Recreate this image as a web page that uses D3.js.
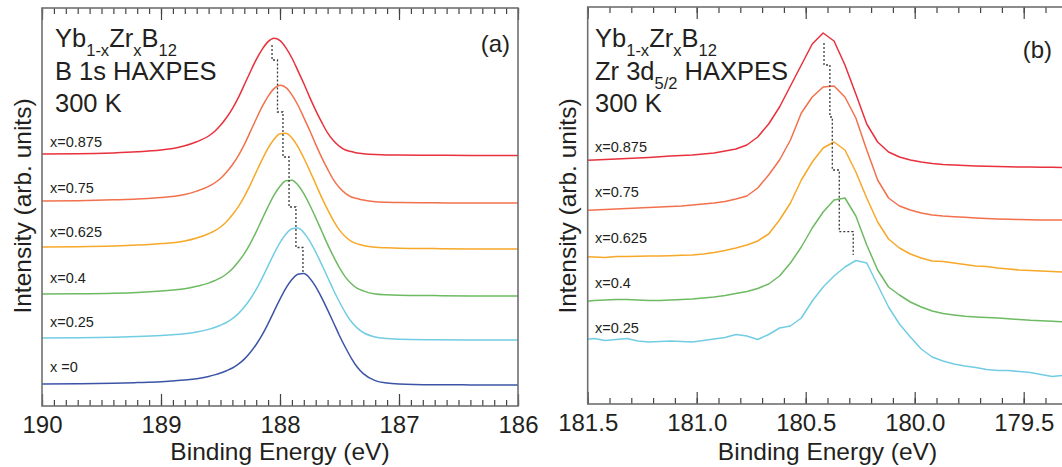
<!DOCTYPE html>
<html>
<head>
<meta charset="utf-8">
<script src="https://cdn.jsdelivr.net/npm/d3@7"></script>
<style>
  html, body { margin: 0; padding: 0; background: #fff; }
  svg { display: block; font-family: "Liberation Sans", Arial, Helvetica, sans-serif; }
</style>
</head>
<body>
<svg id="chart" width="1062" height="467"></svg>
<script>
// ---------- Panel (a): B 1s core level ----------
const energyB1s = [190.0, 189.7, 189.4, 189.2, 189.0, 188.9, 188.8, 188.7,
  188.6, 188.55, 188.5, 188.45, 188.4, 188.35, 188.3, 188.25, 188.2, 188.15, 188.1, 188.05,
  188.0, 187.95, 187.9, 187.85, 187.8, 187.75, 187.7, 187.65, 187.6, 187.55, 187.5, 187.45,
  187.4, 187.35, 187.3, 187.2, 187.1, 187.0, 186.7, 186.4, 186.0];

const b1s_x0875 = [252.0, 252.2, 253.1, 254.2, 256.0, 257.5, 260.2, 264.2,
  270.0, 274.5, 280.8, 288.3, 297.4, 308.4, 321.1, 334.0, 346.3, 356.7, 364.4, 367.7,
  365.4, 358.2, 348.0, 335.4, 322.5, 308.6, 295.6, 283.8, 273.1, 265.2, 259.7, 256.0,
  254.4, 252.9, 252.3, 251.5, 251.1, 251.0, 250.8, 250.6, 250.5];
const b1s_x075 = [205.0, 205.3, 206.2, 207.0, 208.6, 209.6, 211.5, 214.9,
  219.6, 223.0, 227.5, 233.8, 241.3, 250.4, 261.4, 274.1, 287.0, 299.3, 309.7, 317.4,
  320.7, 318.4, 311.2, 301.0, 288.4, 275.5, 261.6, 248.6, 236.8, 226.1, 218.2, 212.7,
  209.0, 207.4, 205.9, 204.2, 203.7, 203.4, 203.2, 203.0, 203.0];
const b1s_x0625 = [159.0, 159.3, 160.0, 160.9, 162.4, 163.2, 165.0, 168.0,
  172.3, 175.1, 179.0, 184.3, 191.2, 199.4, 209.4, 221.1, 233.9, 246.4, 257.8, 266.7,
  272.3, 272.8, 268.1, 259.4, 248.0, 235.3, 222.0, 208.6, 196.3, 185.1, 175.9, 169.3,
  164.7, 162.1, 160.6, 158.8, 158.2, 157.8, 157.4, 157.1, 157.0];
const b1s_x04 = [112.0, 112.2, 112.8, 113.6, 115.0, 116.0, 117.3, 119.7,
  122.9, 125.3, 128.1, 132.0, 137.3, 144.2, 152.4, 162.4, 174.1, 186.9, 199.4, 210.8,
  219.7, 225.3, 225.8, 221.1, 212.4, 201.0, 188.3, 175.0, 161.6, 149.3, 138.1, 128.9,
  122.3, 117.7, 115.1, 112.0, 111.2, 110.8, 110.4, 110.1, 110.0];
const b1s_x025 = [68.0, 68.2, 68.7, 69.4, 70.5, 71.3, 72.3, 74.0,
  76.6, 78.5, 80.8, 83.5, 87.3, 92.4, 99.0, 107.0, 116.6, 127.9, 140.2, 152.3,
  163.3, 171.9, 177.3, 177.9, 173.3, 164.9, 153.9, 141.6, 128.8, 115.8, 104.0, 93.2,
  84.2, 77.9, 73.5, 69.0, 67.5, 66.7, 66.3, 66.1, 66.0];
const b1s_x0 = [22.0, 22.2, 22.7, 23.4, 24.3, 25.1, 26.0, 27.2,
  29.5, 31.1, 33.0, 35.3, 38.0, 41.8, 46.9, 53.5, 61.5, 71.1, 82.4, 94.7,
  106.8, 117.8, 126.4, 131.8, 132.4, 127.8, 119.4, 108.4, 96.1, 83.3, 70.3, 58.5,
  47.7, 38.7, 32.4, 25.4, 23.0, 22.1, 21.3, 21.1, 21.0];

const b1sLabels = ["x=0.875", "x=0.75", "x=0.625", "x=0.4", "x=0.25", "x =0"];
const b1sLabelLevels = [259, 213, 169, 123, 79, 34];
// peak positions of each spectrum and the levels where the guide line steps across
const b1sPeakEnergy = [188.067, 188.021, 187.975, 187.924, 187.866, 187.807];
const b1sStepLevels = [361, 346, 294, 249, 199, 158.5, 134];
const b1sTickLabels = [190, 189, 188, 187, 186];

// ---------- Panel (b): Zr 3d5/2 core level ----------
const energyZr = [181.52, 181.47, 181.42, 181.37, 181.32, 181.27, 181.22, 181.17, 181.12, 181.07,
  181.02, 180.97, 180.92, 180.87, 180.82, 180.77, 180.72, 180.67, 180.62, 180.57,
  180.52, 180.47, 180.42, 180.37, 180.32, 180.27, 180.22, 180.17, 180.12, 180.07,
  180.02, 179.97, 179.92, 179.87, 179.82, 179.77, 179.72, 179.67, 179.62, 179.57,
  179.52, 179.47, 179.42, 179.37, 179.32];

const zr_x0875 = [243.5, 244, 244.5, 245, 245.5, 246, 246.5, 247.2, 248, 248.5,
  249, 250, 251, 253, 255, 259, 267, 280, 297, 318,
  339, 360, 371, 363, 339, 310, 280, 262, 252, 247,
  244, 242, 240.5, 239.5, 239, 238.5, 238, 237.7, 237.4, 237.2,
  237, 237, 236.8, 236.7, 236.6];
const zr_x075 = [193.5, 194, 194.5, 195, 195.5, 196, 196.5, 197, 197.5, 198,
  199, 200, 201, 202.5, 205, 208, 216, 229, 244, 264,
  291, 307, 317, 318, 307, 286, 254, 224, 206, 198,
  194, 191, 189, 188, 187.3, 186.7, 186, 185.5, 185, 184.7,
  184.4, 184.2, 184, 184, 184];
const zr_x0625 = [147.5, 147, 146.5, 147.5, 147.5, 147.7, 148, 148, 148.3, 148.7,
  149, 150, 151.5, 153.5, 156, 159, 163, 170, 184, 201,
  224, 242, 256, 262, 254, 232, 206, 182, 165, 156,
  150, 146, 143, 142.5, 141, 139.5, 138, 137.5, 136, 135,
  134, 133.5, 133, 132.5, 132];
const zr_x04 = [102.3, 103.5, 104, 104.5, 104.5, 104, 103.5, 103.5, 104, 104.5,
  105, 106, 107, 108.5, 110.5, 112.5, 115.5, 120, 128, 141,
  157, 176, 192, 204, 206, 188, 159, 134, 117, 109,
  102, 97, 93, 90.5, 89, 87.7, 87, 86.5, 86, 85.2,
  84.5, 83.7, 83.2, 82.8, 82.3];
const zr_x025 = [64.5, 65.5, 63.5, 64.5, 65.5, 63, 62, 62.5, 63, 62.5,
  62, 63.5, 65, 66.5, 69.5, 68, 64.5, 69.5, 76, 78,
  86, 103, 117, 128, 137, 143.5, 141, 119, 97, 80,
  67, 55, 47, 43, 40, 38, 36.5, 34.5, 33.5, 33.5,
  32.5, 31.5, 29.5, 27.5, 28.5];

const zrLabels = ["x=0.875", "x=0.75", "x=0.625", "x=0.4", "x=0.25"];
const zrLabelLevels = [252, 207, 161, 116, 71];
const zrPeakEnergy = [180.416, 180.389, 180.378, 180.346, 180.282];
const zrStepLevels = [361, 339, 287, 234, 172.3, 149];
const zrTickLabels = [181.5, 181.0, 180.5, 180.0, 179.5];

const seriesColors = ["#e8313c", "#f2714c", "#f7a828", "#6dba62", "#72cde3", "#3c54a6"];

// ---------- drawing ----------
const svg = d3.select("#chart");
const textColor = "#231f20";
const frameColor = "#707070";
const titleSize = 25.5;

const panels = [
  {
    id: "a", left: 42, right: 518, top: 8, bottom: 406,
    xDomain: [190, 186], yDomain: [0, 398],
    energies: energyB1s,
    series: [b1s_x0875, b1s_x075, b1s_x0625, b1s_x04, b1s_x025, b1s_x0],
    labels: b1sLabels, labelLevels: b1sLabelLevels, labelX: 50,
    peaks: b1sPeakEnergy, steps: b1sStepLevels,
    tickLabels: b1sTickLabels, tickFormat: d3.format("d"), minorCount: 40,
    curve: d3.curveMonotoneX,
    tag: "(a)", tagX: 510, tagY: 52,
    yTitleX: 31
  },
  {
    id: "b", left: 587.7, right: 1067.3, top: 7, bottom: 404,
    xDomain: [181.5, 179.3], yDomain: [0, 397],
    energies: energyZr,
    series: [zr_x0875, zr_x075, zr_x0625, zr_x04, zr_x025],
    labels: zrLabels, labelLevels: zrLabelLevels, labelX: 595,
    peaks: zrPeakEnergy, steps: zrStepLevels,
    tickLabels: zrTickLabels, tickFormat: d3.format(".1f"), minorCount: 22,
    curve: d3.curveLinear,
    tag: "(b)", tagX: 1052, tagY: 58,
    yTitleX: 576
  }
];

panels.forEach(p => {
  const g = svg.append("g").attr("class", "panel-" + p.id);
  const x = d3.scaleLinear().domain(p.xDomain).range([p.left, p.right]);
  const y = d3.scaleLinear().domain(p.yDomain).range([p.bottom, p.top]);

  const clipId = "clip-" + p.id;
  svg.append("defs").append("clipPath").attr("id", clipId)
    .append("rect")
    .attr("x", p.left).attr("y", p.top)
    .attr("width", p.right - p.left).attr("height", p.bottom - p.top);

  // spectra
  const line = d3.line()
    .x((d, i) => x(p.energies[i]))
    .y(d => y(d))
    .curve(p.curve);

  const plot = g.append("g").attr("clip-path", `url(#${clipId})`);
  p.series.forEach((s, k) => {
    plot.append("path")
      .datum(s)
      .attr("d", line)
      .attr("fill", "none")
      .attr("stroke", seriesColors[k])
      .attr("stroke-width", 1.5)
      .attr("stroke-linejoin", "round");
  });

  // dotted guide through the peak positions
  const guide = [];
  p.peaks.forEach((e, i) => {
    guide.push([e, p.steps[i]]);
    guide.push([e, p.steps[i + 1]]);
  });
  plot.append("path")
    .datum(guide)
    .attr("d", d3.line().x(d => x(d[0])).y(d => y(d[1])))
    .attr("fill", "none")
    .attr("stroke", "#3a3a3a")
    .attr("stroke-width", 1.3)
    .attr("stroke-dasharray", "2,2");

  // spectrum labels
  g.selectAll("text.lab").data(p.labels).join("text")
    .attr("class", "lab")
    .attr("x", p.labelX)
    .attr("y", (d, i) => y(p.labelLevels[i]))
    .attr("font-size", 14.5)
    .attr("fill", textColor)
    .text(d => d);

  // axes: minor and major ticks, pointing inwards, on bottom and top
  const minor = x.ticks(p.minorCount);
  const axB = d3.axisBottom(x).tickValues(minor).tickSize(-6).tickFormat("");
  const axBM = d3.axisBottom(x).tickValues(p.tickLabels).tickSize(-12).tickPadding(10).tickFormat(p.tickFormat);
  const axT = d3.axisTop(x).tickValues(minor).tickSize(-6).tickFormat("");
  const axTM = d3.axisTop(x).tickValues(p.tickLabels).tickSize(-12).tickFormat("");

  [[axB, p.bottom], [axBM, p.bottom], [axT, p.top], [axTM, p.top]].forEach(([ax, yy]) => {
    const a = g.append("g").attr("transform", `translate(0,${yy})`).call(ax);
    a.select(".domain").remove();
    a.selectAll(".tick line").attr("stroke", "#444").attr("stroke-width", 1.2);
    a.selectAll(".tick text")
      .attr("font-size", 24)
      .attr("font-family", "Liberation Sans, Arial, sans-serif")
      .attr("fill", textColor);
  });

  // frame
  g.append("rect")
    .attr("x", p.left).attr("y", p.top)
    .attr("width", p.right - p.left).attr("height", p.bottom - p.top)
    .attr("fill", "none")
    .attr("stroke", frameColor)
    .attr("stroke-width", 1.6);

  // axis titles
  g.append("text")
    .attr("x", (p.left + p.right) / 2)
    .attr("y", 460)
    .attr("text-anchor", "middle")
    .attr("font-size", 24.5)
    .attr("fill", textColor)
    .text("Binding Energy (eV)");

  g.append("text")
    .attr("transform", `translate(${p.yTitleX},206) rotate(-90)`)
    .attr("text-anchor", "middle")
    .attr("font-size", 24.5)
    .attr("fill", textColor)
    .text("Intensity (arb. units)");

  // panel tag
  g.append("text")
    .attr("x", p.tagX).attr("y", p.tagY)
    .attr("text-anchor", "end")
    .attr("font-size", 24)
    .attr("fill", textColor)
    .text(p.tag);
});

// sample formula with subscripts
function formula(xPos, yPos) {
  const t = svg.append("text").attr("x", xPos).attr("y", yPos)
    .attr("font-size", titleSize).attr("fill", textColor);
  t.append("tspan").text("Yb");
  t.append("tspan").attr("font-size", 16.5).attr("dy", 9).text("1-x");
  t.append("tspan").attr("dy", -9).text("Zr");
  t.append("tspan").attr("font-size", 16.5).attr("dy", 9).text("x");
  t.append("tspan").attr("dy", -9).text("B");
  t.append("tspan").attr("font-size", 16.5).attr("dy", 9).text("12");
}

formula(55, 47);
svg.append("text").attr("x", 55).attr("y", 80).attr("font-size", titleSize)
  .attr("fill", textColor).text("B 1s HAXPES");
svg.append("text").attr("x", 55).attr("y", 112).attr("font-size", titleSize)
  .attr("fill", textColor).text("300 K");

formula(595, 47);
const zrLine = svg.append("text").attr("x", 595).attr("y", 80).attr("font-size", titleSize)
  .attr("fill", textColor);
zrLine.append("tspan").text("Zr 3d");
zrLine.append("tspan").attr("font-size", 16.5).attr("dy", 9).text("5/2");
zrLine.append("tspan").attr("dy", -9).text(" HAXPES");
svg.append("text").attr("x", 595).attr("y", 112).attr("font-size", titleSize)
  .attr("fill", textColor).text("300 K");
</script>
</body>
</html>
